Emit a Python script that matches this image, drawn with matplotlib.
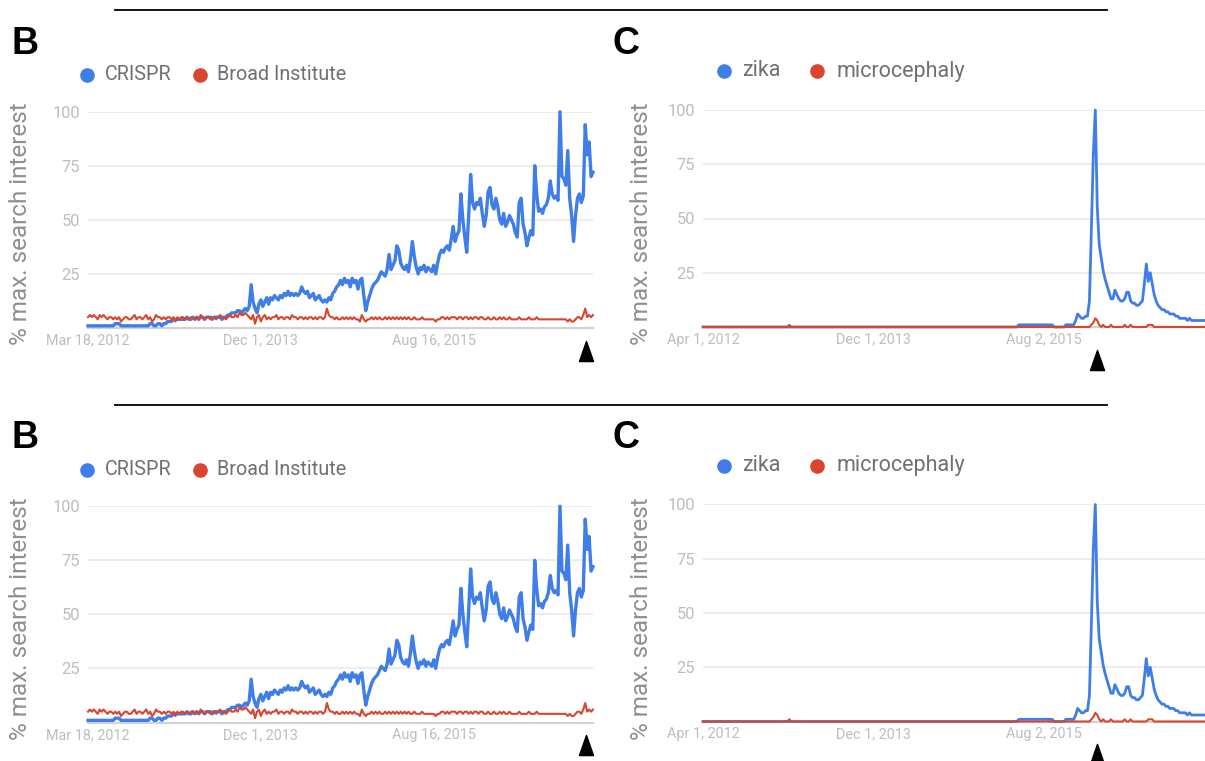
import numpy as np
import pandas as pd
import matplotlib
matplotlib.use("Agg")
import matplotlib.pyplot as plt
import matplotlib.transforms as mtransforms
from matplotlib.lines import Line2D

plt.rcParams['font.family'] = ['Roboto', 'DejaVu Sans']

# ---------------- data (weekly Google Trends, % of max search interest) ----------------
crispr_start = "2012-03-18"
crispr = [
    1, 1, 1, 1, 1, 1, 1, 1, 1, 1,
    1, 1, 1, 1, 2, 2, 2, 1, 1, 1,
    1, 1, 1, 1, 1, 1, 1, 1, 1, 1,
    1, 1, 2, 2, 1, 1, 2, 2, 1, 2,
    2, 3, 3, 3, 4, 4, 4, 4, 4, 4,
    4, 5, 4, 4, 5, 4, 5, 4, 5, 5,
    4, 5, 5, 5, 4, 5, 5, 5, 5, 4,
    5, 5, 6, 6, 7, 7, 7, 8, 8, 7,
    8, 9, 8, 10, 20, 12, 9, 7, 11, 13,
    10, 12, 14, 11, 14, 13, 15, 14, 13, 15,
    14, 16, 15, 17, 15, 16, 15, 16, 15, 16,
    19, 17, 16, 17, 14, 15, 16, 13, 14, 15,
    13, 12, 13, 12, 14, 13, 16, 17, 19, 20,
    22, 20, 23, 21, 22, 19, 23, 21, 22, 18,
    22, 23, 15, 8, 12, 15, 18, 20, 21, 22,
    24, 26, 25, 24, 27, 34, 27, 29, 31, 38,
    36, 30, 28, 27, 29, 26, 32, 40, 33, 28,
    25, 28, 27, 29, 26, 28, 27, 26, 29, 25,
    30, 34, 36, 35, 37, 38, 36, 41, 47, 40,
    43, 45, 62, 50, 42, 35, 52, 71, 58, 55,
    58, 57, 60, 53, 47, 52, 63, 65, 57, 55,
    60, 56, 50, 48, 53, 47, 49, 52, 50, 48,
    44, 42, 58, 60, 48, 44, 38, 42, 45, 43,
    75, 62, 54, 55, 53, 56, 57, 60, 68, 62,
    60, 61, 59, 100, 70, 69, 66, 82, 60, 52,
    40, 52, 60, 62, 58, 61, 94, 80, 86, 70, 72,
]
broad = [
    5, 6, 5, 6, 5, 4, 6, 5, 6, 5,
    4, 5, 5, 4, 5, 4, 5, 3, 4, 5,
    5, 4, 4, 5, 6, 4, 5, 5, 4, 5,
    6, 4, 5, 3, 4, 6, 5, 5, 4, 5,
    4, 5, 5, 4, 5, 3, 5, 4, 5, 5,
    4, 5, 4, 5, 5, 4, 5, 4, 6, 5,
    4, 5, 5, 4, 5, 5, 4, 5, 6, 5,
    5, 4, 5, 6, 5, 5, 6, 5, 7, 6,
    6, 7, 6, 5, 4, 6, 2, 5, 6, 3,
    5, 6, 4, 5, 4, 5, 5, 6, 4, 5,
    5, 4, 5, 5, 4, 6, 5, 5, 4, 5,
    5, 4, 5, 4, 5, 5, 4, 5, 4, 5,
    5, 4, 5, 9, 6, 5, 5, 4, 5, 4,
    4, 5, 4, 5, 4, 5, 4, 5, 4, 4,
    3, 6, 4, 3, 4, 4, 5, 4, 5, 4,
    5, 4, 4, 5, 4, 5, 4, 5, 4, 5,
    4, 5, 4, 5, 4, 5, 4, 4, 5, 4,
    4, 4, 5, 4, 4, 4, 4, 4, 4, 3,
    4, 4, 5, 5, 4, 5, 4, 5, 5, 5,
    4, 5, 5, 4, 5, 5, 4, 5, 4, 5,
    5, 4, 5, 5, 4, 4, 5, 4, 4, 5,
    4, 4, 5, 4, 5, 4, 4, 5, 4, 4,
    4, 4, 5, 4, 4, 4, 4, 5, 4, 4,
    4, 5, 4, 4, 4, 4, 4, 4, 4, 4,
    4, 4, 4, 4, 4, 4, 4, 3, 4, 3,
    3, 4, 5, 5, 4, 6, 9, 5, 6, 5, 6,
]

zika_start = "2012-04-01"
zika = [
    0, 0, 0, 0, 0, 0, 0, 0, 0, 0, 0, 0, 0, 0, 0, 0, 0, 0, 0, 0,
    0, 0, 0, 0, 0, 0, 0, 0, 0, 0, 0, 0, 0, 0, 0, 0, 0, 0, 0, 0,
    0, 0, 0, 0, 0, 0, 0, 0, 0, 0, 0, 0, 0, 0, 0, 0, 0, 0, 0, 0,
    0, 0, 0, 0, 0, 0, 0, 0, 0, 0, 0, 0, 0, 0, 0, 0, 0, 0, 0, 0,
    0, 0, 0, 0, 0, 0, 0, 0, 0, 0, 0, 0, 0, 0, 0, 0, 0, 0, 0, 0,
    0, 0, 0, 0, 0, 0, 0, 0, 0, 0, 0, 0, 0, 0, 0, 0, 0, 0, 0, 0,
    0, 0, 0, 0, 0, 0, 0, 0, 0, 0, 0, 0, 0, 0, 0, 0, 0, 0, 0, 0,
    0, 0, 0, 0, 0, 0, 0, 0, 0, 0, 0, 0, 0, 0, 0, 0, 0, 0, 0, 0,
    0, 1, 1, 1, 1, 1, 1, 1, 1, 1, 1, 1, 1, 1, 1, 1, 1, 1, 1, 0,
    0, 0, 0, 0, 0, 1, 1, 1, 1, 1, 3, 6, 5, 4, 4, 5, 5, 12, 45, 80,
    100, 55, 38, 32, 26, 22, 19, 16, 13, 13, 17, 15, 13, 12, 12, 13, 16, 16, 12, 11,
    11, 10, 10, 11, 12, 20, 29, 21, 25, 20, 15, 12, 10, 9, 8, 8, 7, 7, 6, 6,
    6, 5, 5, 4, 4, 4, 4, 3, 4, 3, 3, 3, 3, 3, 3, 3, 3, 3, 3, 3, 3,
]
microcephaly = [
    0, 0, 0, 0, 0, 0, 0, 0, 0, 0, 0, 0, 0, 0, 0, 0, 0, 0, 0, 0,
    0, 0, 0, 0, 0, 0, 0, 0, 0, 0, 0, 0, 0, 0, 0, 0, 0, 0, 0, 0,
    0, 0, 0, 0, 1, 0, 0, 0, 0, 0, 0, 0, 0, 0, 0, 0, 0, 0, 0, 0,
    0, 0, 0, 0, 0, 0, 0, 0, 0, 0, 0, 0, 0, 0, 0, 0, 0, 0, 0, 0,
    0, 0, 0, 0, 0, 0, 0, 0, 0, 0, 0, 0, 0, 0, 0, 0, 0, 0, 0, 0,
    0, 0, 0, 0, 0, 0, 0, 0, 0, 0, 0, 0, 0, 0, 0, 0, 0, 0, 0, 0,
    0, 0, 0, 0, 0, 0, 0, 0, 0, 0, 0, 0, 0, 0, 0, 0, 0, 0, 0, 0,
    0, 0, 0, 0, 0, 0, 0, 0, 0, 0, 0, 0, 0, 0, 0, 0, 0, 0, 0, 0,
    0, 0, 0, 0, 0, 0, 0, 0, 0, 0, 0, 0, 0, 0, 0, 0, 0, 0, 0, 0,
    0, 0, 0, 0, 0, 0, 0, 0, 0, 0, 0, 0, 0, 0, 0, 0, 0, 0, 1, 2,
    4, 3, 1, 0, 1, 0, 0, 0, 1, 0, 0, 0, 0, 0, 0, 1, 0, 0, 1, 0,
    0, 0, 0, 0, 0, 0, 0, 1, 1, 1, 0, 0, 0, 0, 0, 0, 0, 0, 0, 0,
    0, 0, 0, 0, 0, 0, 0, 0, 0, 0, 0, 0, 0, 0, 0, 0, 0, 0, 0, 0, 0,
]

b_names = ["CRISPR", "Broad Institute"]
c_names = ["zika", "microcephaly"]
b_tick_dates = ["2012-03-18", "2013-12-01", "2015-08-16"]
b_tick_labels = ["Mar 18, 2012", "Dec 1, 2013", "Aug 16, 2015"]
c_tick_dates = ["2012-04-01", "2013-12-01", "2015-08-02"]
c_tick_labels = ["Apr 1, 2012", "Dec 1, 2013", "Aug 2, 2015"]
b_arrow_date = "2017-02-14"
c_arrow_date = "2016-02-07"
y_ticks = [25, 50, 75, 100]

# ---------------- style ----------------
BLUE = "#3f7ee8"
RED = "#d9452f"
GRID = "#ebebeb"
BASE = "#d2d2d2"
TICK_C = "#bdbdbd"
YLAB_C = "#8f8f8f"
LEG_C = "#707070"

W, H = 1205, 761
fig = plt.figure(figsize=(W / 100, H / 100), dpi=100)


def fx(x):
    return x / W


def fy(y):
    return 1 - y / H


TRI = [(-0.35, -0.5), (0.35, -0.5), (0.0, 0.5), (-0.35, -0.5)]


def panel(dy, left, right, top, bottom, start, s1, s2, names, tdates, tlabels,
          arrow_date, arrow_y, letter, letter_x, ylab_x, leg, leg_size, lw1):
    ax = fig.add_axes([fx(left), fy(bottom + dy), fx(right - left), (bottom - top) / H])
    dates = pd.date_range(start, periods=len(s1), freq="7D")
    ax.set_xlim(dates[0], dates[-1])
    ax.set_ylim(0, 100)
    for sp in ax.spines.values():
        sp.set_visible(False)
    ax.set_yticks(y_ticks)
    ax.set_yticklabels([str(v) for v in y_ticks])
    ax.grid(axis="y", color=GRID, lw=1.3, zorder=0)
    ax.set_axisbelow(True)
    ax.axhline(0, color=BASE, lw=1.6, zorder=1, clip_on=False)
    ax.set_xticks(pd.to_datetime(tdates))
    ax.set_xticklabels(tlabels)
    ax.tick_params(axis="y", length=0, pad=6, labelsize=11.8, labelcolor=TICK_C)
    ax.tick_params(axis="x", length=0, pad=4, labelsize=10.4, labelcolor=TICK_C)
    ax.plot(dates, s1, color=BLUE, lw=lw1, zorder=3, clip_on=False, solid_joinstyle="round")
    ax.plot(dates, s2, color=RED, lw=1.5, zorder=4, clip_on=False, solid_joinstyle="round")
    tr = mtransforms.blended_transform_factory(ax.transData, ax.transAxes)
    ax.plot([pd.Timestamp(arrow_date)], [arrow_y], transform=tr, marker=TRI,
            markersize=14.5, color="black", linestyle="None", clip_on=False)
    # panel letter
    fig.text(fx(letter_x), fy(44 + dy), letter, fontsize=27, fontweight="bold",
             family=["Liberation Sans", "DejaVu Sans"], ha="left", va="center", color="black")
    # y label
    fig.text(fx(ylab_x), fy(224 + dy), "% max. search interest", rotation=90,
             ha="center", va="center", fontsize=17.5, color=YLAB_C)
    # legend
    (d1x, t1x, d2x, t2x, ly) = leg
    for dxp, col in ((d1x, BLUE), (d2x, RED)):
        fig.add_artist(Line2D([fx(dxp)], [fy(ly + dy)], marker="o", markersize=9.5,
                              color=col, linestyle="None", transform=fig.transFigure))
    fig.text(fx(t1x), fy(ly + dy), names[0], ha="left", va="center",
             fontsize=leg_size, color=LEG_C)
    fig.text(fx(t2x), fy(ly + dy), names[1], ha="left", va="center",
             fontsize=leg_size, color=LEG_C)
    return ax


for dy in (0, 394.5):
    # separator line above each row
    fig.add_artist(Line2D([fx(115), fx(1107)], [fy(10 + dy), fy(10 + dy)],
                          color="black", lw=1.3, transform=fig.transFigure))
    panel(dy, 88, 593, 111.7, 328, crispr_start, crispr, broad, b_names,
          b_tick_dates, b_tick_labels, b_arrow_date, -0.106, "B", 11, 21,
          (87, 105, 200, 217, 75), 14.2, 2.4)
    panel(dy, 703, 1213, 110, 327, zika_start, zika, microcephaly, c_names,
          c_tick_dates, c_tick_labels, c_arrow_date, -0.152, "C", 612, 641,
          (724, 742, 817, 836, 71), 15.5, 2.0)

fig.savefig("out.png", dpi=100)
